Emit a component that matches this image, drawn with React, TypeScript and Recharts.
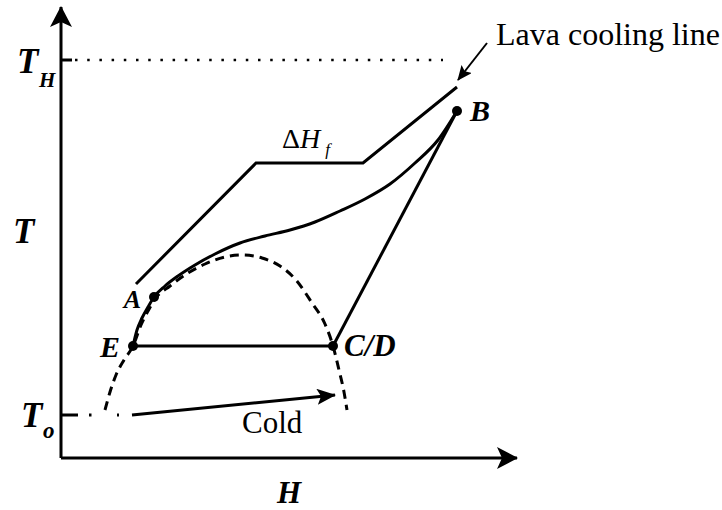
import React from 'react';
import { ComposedChart, Line, Scatter, XAxis, YAxis, ReferenceLine } from 'recharts';

// ---- Data (schematic units: H = enthalpy, T = temperature) ----
const T_COLD = 43; // T_o
const T_HOT = 398; // T_H
const yTickValues = [T_COLD, T_HOT];
const yTickSubscripts = ['o', 'H'];

const lavaCoolingLine = [
  { h: 75, t: 174 },
  { h: 195, t: 295 },
  { h: 302, t: 295 },
  { h: 396, t: 371 },
];

// solid path E -> A -> B
const heatingCurve = [
  { h: 72, t: 112 }, { h: 76, t: 128 }, { h: 81, t: 140 }, { h: 87, t: 151 },
  { h: 93, t: 161 }, { h: 104, t: 172 }, { h: 117, t: 182 }, { h: 134, t: 193 },
  { h: 154, t: 204 }, { h: 179, t: 215 }, { h: 204, t: 222 }, { h: 229, t: 228 },
  { h: 254, t: 236 }, { h: 279, t: 247 }, { h: 304, t: 259 }, { h: 329, t: 274 },
  { h: 354, t: 295 }, { h: 377, t: 318 }, { h: 396, t: 347 },
];

// dashed dome
const dashedDome = [
  { h: 44, t: 48 }, { h: 49, t: 66 }, { h: 55, t: 83 }, { h: 63, t: 98 },
  { h: 72, t: 112 }, { h: 80, t: 133 }, { h: 87, t: 147 }, { h: 94, t: 159 },
  { h: 109, t: 172 }, { h: 127, t: 185 }, { h: 144, t: 194 }, { h: 164, t: 201 },
  { h: 182, t: 203 }, { h: 201, t: 200 }, { h: 219, t: 192 }, { h: 235, t: 178 },
  { h: 251, t: 155 }, { h: 264, t: 134 }, { h: 272, t: 112 }, { h: 278, t: 88 },
  { h: 283, t: 66 }, { h: 286, t: 48 },
];

const lineEC = [{ h: 72, t: 112 }, { h: 272, t: 112 }];
const lineBC = [{ h: 396, t: 347 }, { h: 272, t: 112 }];
const coldArrow = [{ h: 71, t: T_COLD }, { h: 274, t: 63 }];
const pointerArrow = [{ h: 426, t: 415 }, { h: 397, t: 378 }];

const statePoints = [
  { h: 93, t: 161, name: 'A' },
  { h: 396, t: 347, name: 'B' },
  { h: 272, t: 112, name: 'C/D' },
  { h: 72, t: 112, name: 'E' },
];

const notes = [
  { h: 435, t: 413, id: 'lava', text: 'Lava cooling line' },
  { h: 221, t: 310, id: 'dh', text: 'ΔH' },
  { h: 181, t: 25, id: 'cold', text: 'Cold' },
];

// ---- Styles ----
const SERIF = "'Liberation Serif', 'Times New Roman', Times, serif";
const INK = '#000';

const pointLabelStyle: Record<string, { dx: number; dy: number; anchor: string; size: number }> = {
  A: { dx: -13, dy: 11, anchor: 'end', size: 26 },
  B: { dx: 13, dy: 10, anchor: 'start', size: 30 },
  'C/D': { dx: 11, dy: 10, anchor: 'start', size: 31 },
  E: { dx: -13, dy: 11, anchor: 'end', size: 30 },
};

const yTickStyle: Record<number, { dx: number; dy: number; sdx: number; sdy: number; ss: number }> = {
  [T_HOT]: { dx: -44, dy: 13, sdx: -22, sdy: 27, ss: 21 },
  [T_COLD]: { dx: -40, dy: 12, sdx: -18, sdy: 23, ss: 23 },
};

const YTick = (props: any) => {
  const { x, y, payload } = props;
  const v = payload.value;
  const s = yTickStyle[v];
  const sub = yTickSubscripts[yTickValues.indexOf(v)];
  if (!s) return null;
  return (
    <g>
      <text x={x + s.dx} y={y + s.dy} fontSize={35} fontStyle="italic" fontWeight="bold" fontFamily={SERIF} fill={INK}>T</text>
      <text x={x + s.sdx} y={y + s.sdy} fontSize={s.ss} fontStyle="italic" fontWeight="bold" fontFamily={SERIF} fill={INK}>{sub}</text>
    </g>
  );
};

const renderTLabel = (props: any) => {
  const vb = props.viewBox || { x: 0, y: 7, width: 61, height: 451 };
  return (
    <text x={vb.x + 13} y={vb.y + vb.height / 2 + 10} fontSize={35} fontStyle="italic" fontWeight="bold" fontFamily={SERIF} fill={INK}>T</text>
  );
};

const renderHLabel = (props: any) => {
  const vb = props.viewBox || { x: 61, y: 458, width: 456, height: 52 };
  return (
    <text x={vb.x + vb.width / 2 - 12} y={vb.y + 45} fontSize={31} fontStyle="italic" fontWeight="bold" fontFamily={SERIF} fill={INK}>H</text>
  );
};

const StatePoint = (props: any) => {
  const { cx, cy, payload } = props;
  const s = pointLabelStyle[payload.name];
  return (
    <g>
      <circle cx={cx} cy={cy} r={5} fill={INK} />
      <text x={cx + s.dx} y={cy + s.dy} textAnchor={s.anchor} fontSize={s.size} fontStyle="italic" fontWeight="bold" fontFamily={SERIF} fill={INK}>{payload.name}</text>
    </g>
  );
};

const NoteShape = (props: any) => {
  const { cx, cy, payload } = props;
  if (payload.id === 'dh') {
    return (
      <text x={cx} y={cy} fontSize={28} fontFamily={SERIF} fill={INK}>
        <tspan>Δ</tspan>
        <tspan fontStyle="italic">H</tspan>
        <tspan fontStyle="italic" fontSize={17} dx={5} dy={7}>f</tspan>
      </text>
    );
  }
  const size = payload.id === 'lava' ? 32 : 31;
  return (
    <text x={cx} y={cy} fontSize={size} fontFamily={SERIF} fill={INK}>{payload.text}</text>
  );
};

export default function App() {
  return (
    <div>
      <style>{'body{margin:0;background:#fff}'}</style>
      <svg width={0} height={0} style={{ position: 'absolute' }} aria-hidden="true">
        <defs>
          <marker id="axisHead" viewBox="0 0 21 22" refX={20} refY={11} markerWidth={21} markerHeight={22} markerUnits="userSpaceOnUse" orient="auto-start-reverse">
            <path d="M0,0 L21,11 L0,22 L5,11 Z" fill={INK} />
          </marker>
          <marker id="coldHead" viewBox="0 0 19 16" refX={18} refY={8} markerWidth={19} markerHeight={16} markerUnits="userSpaceOnUse" orient="auto">
            <path d="M0,0 L19,8 L0,16 L4,8 Z" fill={INK} />
          </marker>
          <marker id="noteHead" viewBox="0 0 15 13" refX={14} refY={6.5} markerWidth={15} markerHeight={13} markerUnits="userSpaceOnUse" orient="auto">
            <path d="M0,0 L15,6.5 L0,13 L3,6.5 Z" fill={INK} />
          </marker>
        </defs>
      </svg>
      <ComposedChart width={722} height={510} margin={{ top: 7, right: 205, bottom: 0, left: 0 }}>
        <XAxis
          type="number"
          dataKey="h"
          domain={[0, 456]}
          ticks={[]}
          tick={false}
          tickLine={false}
          height={52}
          axisLine={{ stroke: INK, strokeWidth: 3, markerEnd: 'url(#axisHead)' }}
          label={{ value: 'H', content: renderHLabel }}
        />
        <YAxis
          type="number"
          domain={[0, 451]}
          ticks={yTickValues}
          tick={YTick}
          tickLine={false}
          tickSize={0}
          tickMargin={0}
          width={61}
          axisLine={{ stroke: INK, strokeWidth: 3, markerStart: 'url(#axisHead)' }}
          label={{ value: 'T', content: renderTLabel }}
        />
        <ReferenceLine segment={[{ x: 0, y: T_HOT }, { x: 11, y: T_HOT }]} stroke={INK} strokeWidth={3} />
        <ReferenceLine segment={[{ x: 14, y: T_HOT }, { x: 382, y: T_HOT }]} stroke={INK} strokeWidth={2.5} strokeDasharray="2.5 9.7" />
        <ReferenceLine segment={[{ x: 0, y: T_COLD }, { x: 58, y: T_COLD }]} stroke={INK} strokeWidth={3} strokeDasharray="17 11 2.5 25.5 2.5 40" />
        <Line data={lavaCoolingLine} dataKey="t" type="linear" stroke={INK} strokeWidth={3} dot={false} activeDot={false} isAnimationActive={false} />
        <Line data={dashedDome} dataKey="t" type="monotone" stroke={INK} strokeWidth={3} strokeDasharray="9 6" dot={false} activeDot={false} isAnimationActive={false} />
        <Line data={heatingCurve} dataKey="t" type="monotone" stroke={INK} strokeWidth={3} dot={false} activeDot={false} isAnimationActive={false} />
        <Line data={lineEC} dataKey="t" type="linear" stroke={INK} strokeWidth={3} dot={false} activeDot={false} isAnimationActive={false} />
        <Line data={lineBC} dataKey="t" type="linear" stroke={INK} strokeWidth={3} dot={false} activeDot={false} isAnimationActive={false} />
        <Line data={coldArrow} dataKey="t" type="linear" stroke={INK} strokeWidth={3} dot={false} activeDot={false} isAnimationActive={false} markerEnd="url(#coldHead)" />
        <Line data={pointerArrow} dataKey="t" type="linear" stroke={INK} strokeWidth={2} dot={false} activeDot={false} isAnimationActive={false} markerEnd="url(#noteHead)" />
        <Scatter data={statePoints} dataKey="t" shape={StatePoint} isAnimationActive={false} />
        <Scatter data={notes} dataKey="t" shape={NoteShape} isAnimationActive={false} />
      </ComposedChart>
    </div>
  );
}
